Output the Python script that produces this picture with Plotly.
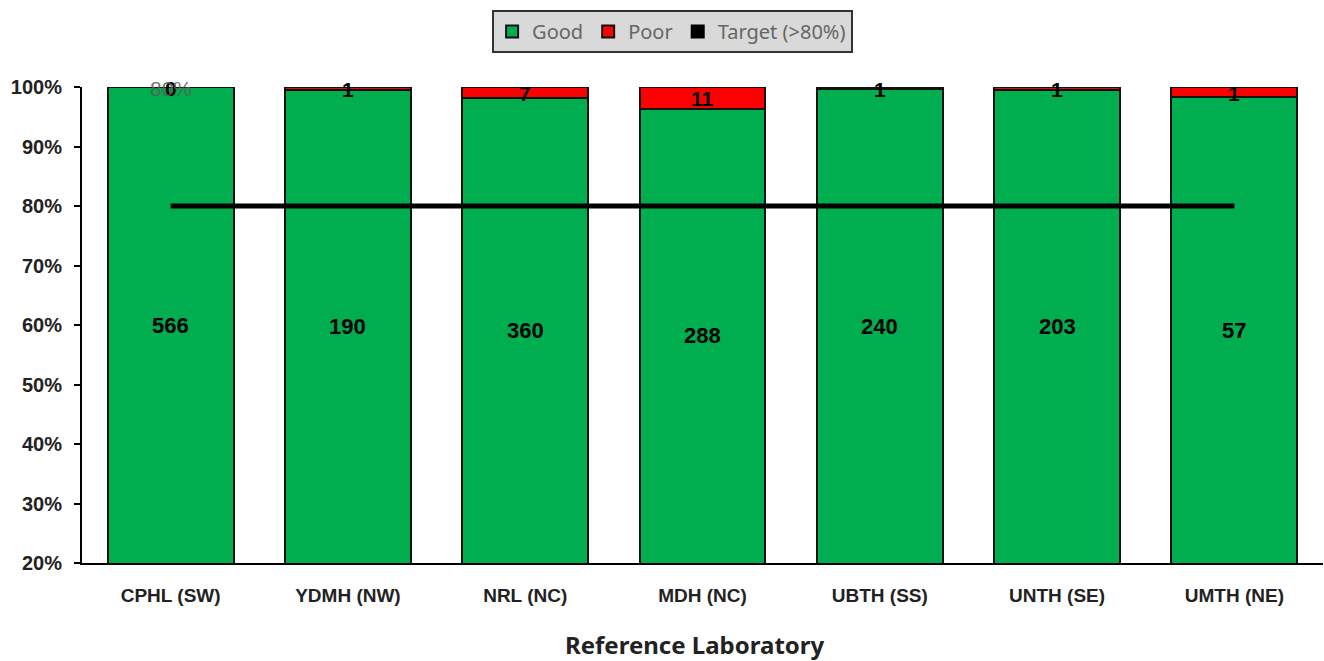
import plotly.graph_objects as go

labs = ["CPHL (SW)", "YDMH (NW)", "NRL (NC)", "MDH (NC)", "UBTH (SS)", "UNTH (SE)", "UMTH (NE)"]
good = [566, 190, 360, 288, 240, 203, 57]
poor = [0, 1, 7, 11, 1, 1, 1]
target = 0.80

totals = [g + p for g, p in zip(good, poor)]
good_frac = [g / t for g, t in zip(good, totals)]
poor_frac = [p / t for p, t in zip(poor, totals)]

Y_MIN, Y_MAX = 0.2, 1.0
GREEN = "#00ad4f"
RED = "#ff0000"

fig = go.Figure()
fig.add_trace(go.Bar(
    name="Good", x=labs, y=good_frac, marker=dict(color=GREEN, line=dict(color="#111111", width=2)),
    width=0.71,
))
fig.add_trace(go.Bar(
    name="Poor", x=labs, y=poor_frac, marker=dict(color=RED, line=dict(color="#111111", width=2)),
    width=0.71,
))
# target line across all laboratories
fig.add_trace(go.Scatter(
    x=labs, y=[target] * len(labs), mode="lines", line=dict(color="black", width=5),
    showlegend=False, legendgroup="t", hoverinfo="skip",
))
fig.add_trace(go.Scatter(
    x=[None], y=[None], mode="markers", name="Target (>80%)", legendgroup="t",
    marker=dict(symbol="square", color="black", size=13, line=dict(color="black", width=1)),
))

anns = []
for lab, gf, pf, g, p in zip(labs, good_frac, poor_frac, good, poor):
    anns.append(dict(x=lab, y=(Y_MIN + gf) / 2, text=f"<b>{g}</b>", showarrow=False,
                     font=dict(family="Liberation Sans", size=22, color="black")))
    anns.append(dict(x=lab, y=gf + pf / 2, text=f"<b>{p}</b>", showarrow=False, yshift=-1,
                     font=dict(family="Liberation Sans", size=21, color="black")))
anns.append(dict(x=labs[0], y=Y_MAX, text=f"{target:.0%}", showarrow=False, yshift=-1,
                 font=dict(family="Liberation Sans", size=21, color="rgba(90,90,90,0.85)")))
anns.append(dict(x=0.494, y=-0.172, xref="paper", yref="paper", xanchor="center", yanchor="middle",
                 text="<b>Reference Laboratory</b>", showarrow=False,
                 font=dict(family="Noto Sans", size=24, color="#222222")))

fig.update_layout(
    barmode="stack",
    width=1324, height=661,
    margin=dict(l=82, r=1, t=87, b=98),
    paper_bgcolor="white", plot_bgcolor="white",
    bargap=0.29,
    annotations=anns,
    legend=dict(
        orientation="h", xref="container", yref="container", x=0.508, y=0.985,
        xanchor="center", yanchor="top",
        bgcolor="#d9d9d9", bordercolor="#333333", borderwidth=2,
        font=dict(family="Noto Sans", size=20, color="#666666"),
        itemsizing="constant", itemwidth=30,
    ),
    xaxis=dict(
        showline=True, linecolor="black", linewidth=2, ticks="", showgrid=False,
        tickfont=dict(family="Liberation Sans", size=19, color="#222222"),
        tickprefix="<b>", ticksuffix="</b>", ticklabelstandoff=14,
    ),
    yaxis=dict(
        range=[Y_MIN, Y_MAX], dtick=0.1, tickformat=".0%", showgrid=False,
        showline=True, linecolor="black", linewidth=2, ticks="outside", ticklen=6,
        tickcolor="black", tickwidth=2,
        tickfont=dict(family="Liberation Sans", size=20, color="#222222"),
        tickprefix="<b>", ticksuffix="</b>", ticklabelstandoff=8,
    ),
)

fig.write_html("out.html")
